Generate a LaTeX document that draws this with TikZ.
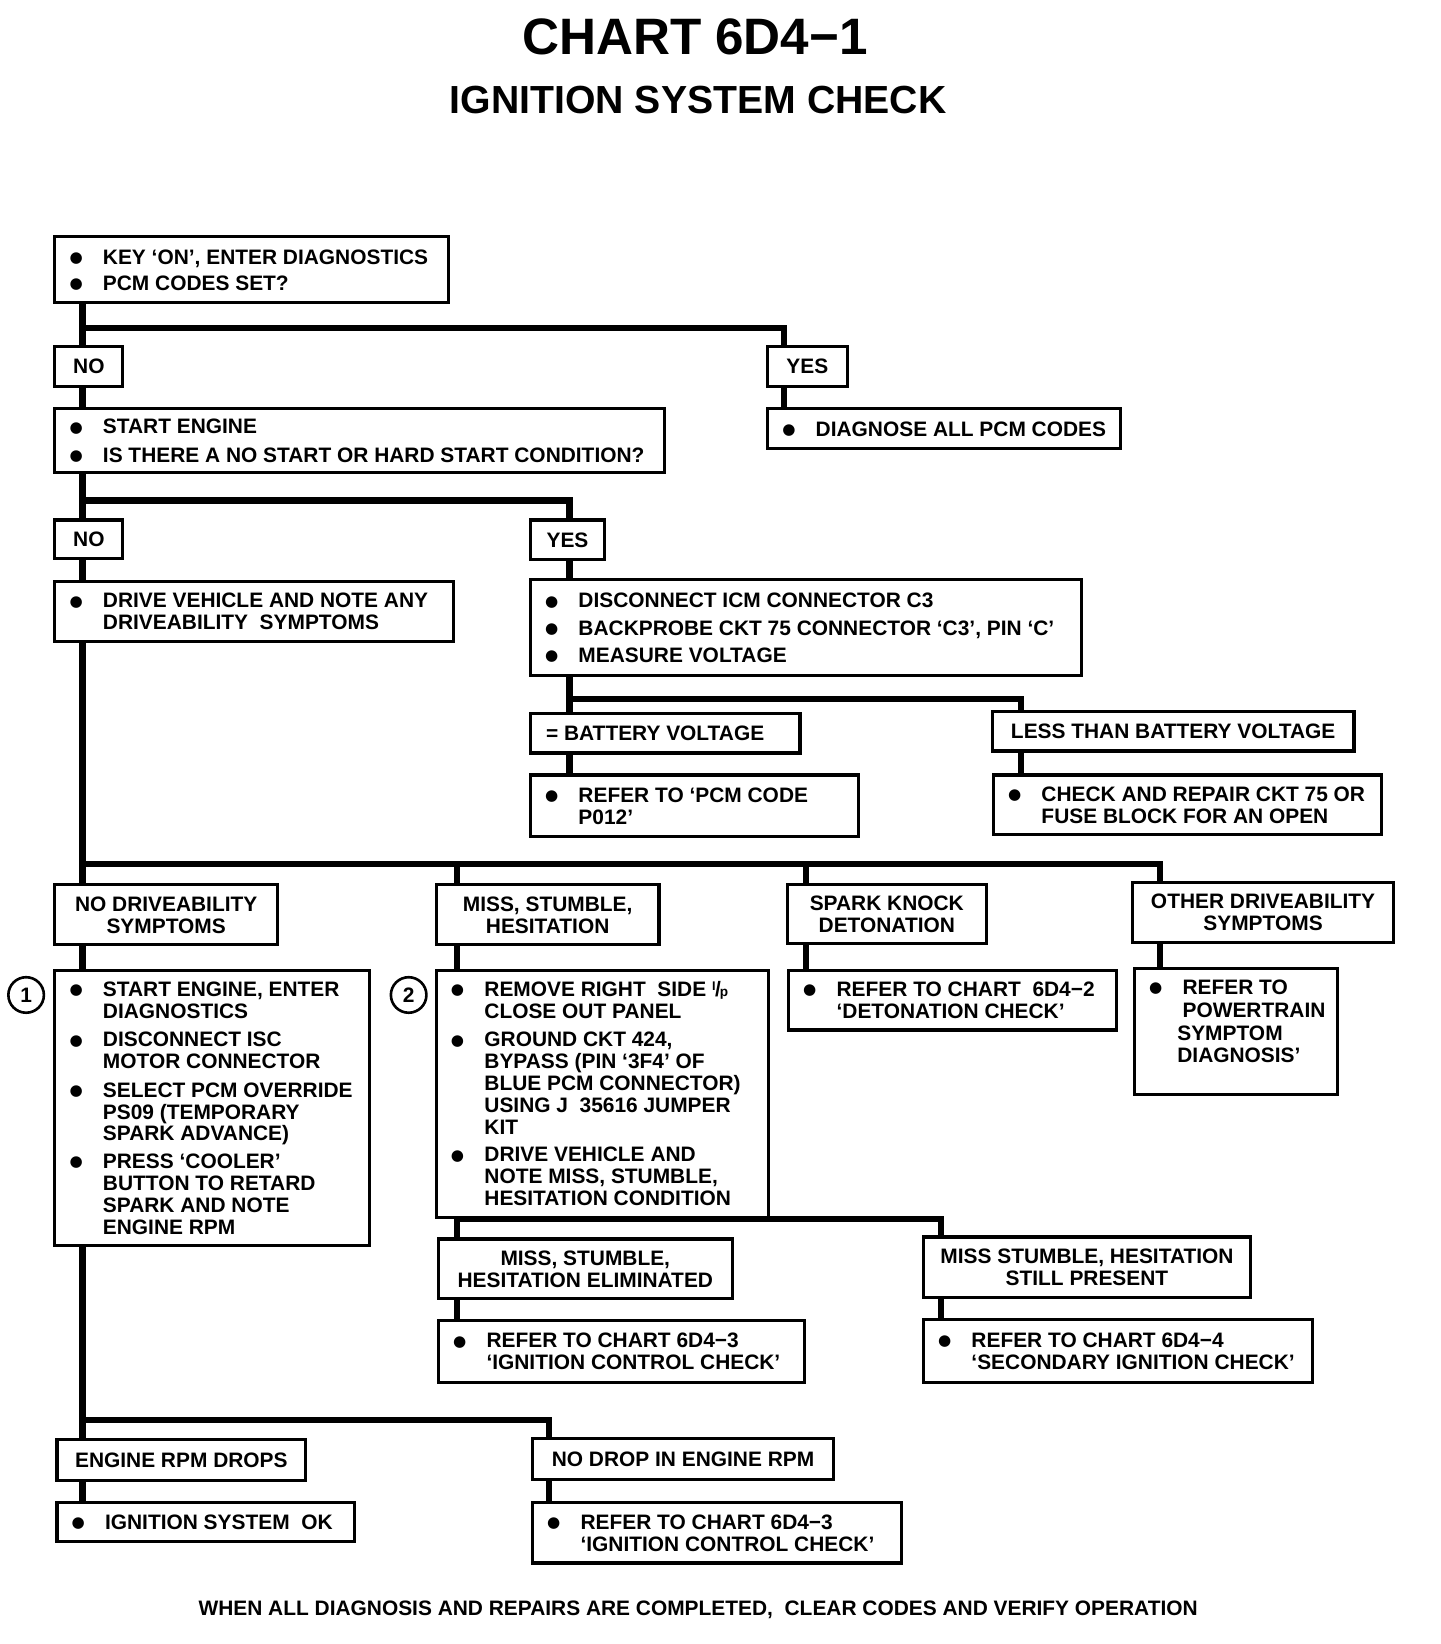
\documentclass[tikz,border=0pt]{standalone}
\usepackage{fontspec}
\setmainfont{Liberation Sans}
\newfontfamily\djv{DejaVu Sans}
\usetikzlibrary{calc}
\newcommand\bu{\hspace*{-1pt}\raisebox{1.8pt}{\djv\fontsize{14.5}{14.5}\selectfont ●}}
\newcommand\BL[2]{\makebox[#1pt][l]{\hspace*{15pt}\begin{tabular}{@{}p{31pt}@{}l@{}}#2\\[-6pt]\end{tabular}}}
\newcommand\CT[1]{\begin{tabular}{@{}c@{}}#1\\[-6pt]\end{tabular}}
\newcommand\IP{{\fontsize{12}{12}\selectfont\raisebox{6pt}{I}}\kern-0.5pt/\kern-1pt{\fontsize{13}{13}\selectfont p}}
\tikzset{
  txt/.style={font=\bfseries\fontsize{20}{21}\selectfont},
  box/.style={draw, line width=3pt, rectangle, inner sep=0pt, anchor=north west, txt},
  conn/.style={line width=6pt, line join=miter},
  num/.style={draw, circle, line width=2.5pt, minimum size=34pt, inner sep=0pt, txt}
}
\begin{document}
\begin{tikzpicture}[x=1pt,y=-1pt]
\useasboundingbox (0,0) rectangle (1378,1573);
% titles
\node[font=\bfseries\fontsize{49}{49}\selectfont] (title) at (665,35) {CHART 6D4−1};
\node[font=\bfseries\fontsize{37.5}{38}\selectfont] (subtitle) at (668,96) {IGNITION SYSTEM CHECK};
% boxes
\node[box,minimum width=377pt,minimum height=63pt] (A) at (51,225) {\BL{377}{\bu & KEY `ON', ENTER DIAGNOSTICS\\[4pt] \bu & PCM CODES SET?}};
\node[box,minimum width=65pt,minimum height=38pt] (no1) at (51,330) {\CT{NO}};
\node[box,minimum width=76pt,minimum height=38pt] (yes1) at (733,330) {\CT{YES}};
\node[box,minimum width=583pt,minimum height=62pt] (B) at (51,389) {\BL{583}{\bu & START ENGINE\\[6pt] \bu & IS THERE A NO START OR HARD START CONDITION?}};
\node[box,minimum width=338pt,minimum height=39pt] (diag) at (733,389) {\BL{338}{\bu & DIAGNOSE ALL PCM CODES}};
\node[box,minimum width=65pt,minimum height=37pt] (no2) at (51,496) {\CT{NO}};
\node[box,minimum width=71pt,minimum height=38pt] (yes2) at (506,496) {\CT{YES}};
\node[box,minimum width=381pt,minimum height=57pt] (C) at (51,555) {\BL{381}{\bu & DRIVE VEHICLE AND NOTE ANY\\ & DRIVEABILITY\ \ SYMPTOMS}};
\node[box,minimum width=527pt,minimum height=92pt] (D) at (506,553) {\BL{527}{\bu & DISCONNECT ICM CONNECTOR C3\\[5pt] \bu & BACKPROBE CKT 75 CONNECTOR `C3', PIN `C'\\[5pt] \bu & MEASURE VOLTAGE}};
\node[box,minimum width=258pt,minimum height=38pt] (eq) at (506,681) {\makebox[258pt][l]{\hspace*{15pt}\CT{= BATTERY VOLTAGE}}};
\node[box,minimum width=346pt,minimum height=38pt] (less) at (948,679) {\CT{LESS THAN BATTERY VOLTAGE}};
\node[box,minimum width=314pt,minimum height=59pt] (p012) at (506,740) {\BL{314}{\bu & REFER TO `PCM CODE\\ & P012'}};
\node[box,minimum width=371pt,minimum height=57pt] (ckt) at (949,740) {\BL{371}{\bu & CHECK AND REPAIR CKT 75 OR\\ & FUSE BLOCK FOR AN OPEN}};
\node[box,minimum width=213pt,minimum height=57pt] (nodrv) at (51,845) {\CT{NO DRIVEABILITY\\SYMPTOMS}};
\node[box,minimum width=213pt,minimum height=57pt] (miss) at (416,845) {\CT{MISS, STUMBLE,\\HESITATION}};
\node[box,minimum width=190pt,minimum height=56pt] (spark) at (752,845) {\CT{SPARK KNOCK\\DETONATION}};
\node[box,minimum width=250pt,minimum height=57pt] (other) at (1082,843) {\CT{OTHER DRIVEABILITY\\SYMPTOMS}};
\node[box,minimum width=301pt,minimum height=263pt] (b1) at (51,927) {\BL{301}{\bu & START ENGINE, ENTER\\ & DIAGNOSTICS\\[6pt] \bu & DISCONNECT ISC\\ & MOTOR CONNECTOR\\[6pt] \bu & SELECT PCM OVERRIDE\\ & PS09 (TEMPORARY\\ & SPARK ADVANCE)\\[5pt] \bu & PRESS `COOLER'\\ & BUTTON TO RETARD\\ & SPARK AND NOTE\\ & ENGINE RPM}};
\node[box,minimum width=318pt,minimum height=236pt] (b2) at (416,927) {\BL{318}{\bu & REMOVE RIGHT\ \ SIDE \IP\\ & CLOSE OUT PANEL\\[6pt] \bu & GROUND CKT 424,\\ & BYPASS (PIN `3F4' OF\\ & BLUE PCM CONNECTOR)\\ & USING J\ \ 35616 JUMPER\\ & KIT\\[5pt] \bu & DRIVE VEHICLE AND\\ & NOTE MISS, STUMBLE,\\ & HESITATION CONDITION}};
\node[box,minimum width=314pt,minimum height=57pt] (det) at (753,927) {\BL{314}{\bu & REFER TO CHART\ \ 6D4−2\\ & `DETONATION CHECK'}};
\node[box,minimum width=194pt,minimum height=121pt] (pwr) at (1084,925) {\BL{194}{\bu & REFER TO\\[1pt] & POWERTRAIN\\[1pt] & \hspace*{-5pt}SYMPTOM\\ & \hspace*{-5pt}DIAGNOSIS'\\[-1pt]}};
\node[box,minimum width=281pt,minimum height=57pt] (elim) at (418,1184) {\CT{MISS, STUMBLE,\\HESITATION ELIMINATED}};
\node[box,minimum width=313pt,minimum height=58pt] (still) at (882,1182) {\CT{MISS STUMBLE, HESITATION\\STILL PRESENT}};
\node[box,minimum width=350pt,minimum height=59pt] (ic1) at (418,1262) {\BL{350}{\bu & REFER TO CHART 6D4−3\\ & `IGNITION CONTROL CHECK'}};
\node[box,minimum width=372pt,minimum height=60pt] (sec) at (882,1261) {\BL{372}{\bu & REFER TO CHART 6D4−4\\ & `SECONDARY IGNITION CHECK'}};
\node[box,minimum width=238pt,minimum height=39pt] (drops) at (53,1376) {\CT{ENGINE RPM DROPS}};
\node[box,minimum width=288pt,minimum height=39pt] (nodrop) at (508,1375) {\CT{NO DROP IN ENGINE RPM}};
\node[box,minimum width=285pt,minimum height=37pt] (ok) at (53,1436) {\BL{285}{\bu & IGNITION SYSTEM\ \ OK}};
\node[box,minimum width=353pt,minimum height=58pt] (ic2) at (508,1436) {\BL{353}{\bu & REFER TO CHART 6D4−3\\ & `IGNITION CONTROL CHECK'}};
% numbered circles
\node[num] (n1) at (25,952) {1};
\node[num] (n2) at (391,952) {2};
% footer
\node[txt] (foot) at (668,1540) {WHEN ALL DIAGNOSIS AND REPAIRS ARE COMPLETED,\ \ CLEAR CODES AND VERIFY OPERATION};
% connectors
\draw[conn] ([xshift=28pt]A.south west) -- ([xshift=28pt]no1.north west);
\draw[conn] ([xshift=28pt,yshift=-23pt]A.south west) -| ([xshift=17pt]yes1.north west);
\draw[conn] ([xshift=28pt]no1.south west) -- ([xshift=28pt]B.north west);
\draw[conn] ([xshift=17pt]yes1.south west) -- ([xshift=17pt]diag.north west);
\draw[conn] ([xshift=28pt]B.south west) -- ([xshift=28pt]no2.north west);
\draw[conn] ([xshift=28pt,yshift=-25pt]B.south west) -| ([xshift=39pt]yes2.north west);
\draw[conn] ([xshift=28pt]no2.south west) -- ([xshift=28pt]C.north west);
\draw[conn] ([xshift=39pt]yes2.south west) -- ([xshift=39pt]D.north west);
\draw[conn] ([xshift=39pt]D.south west) -- ([xshift=39pt]eq.north west);
\draw[conn] ([xshift=39pt,yshift=-21pt]D.south west) -| ([xshift=29pt]less.north west);
\draw[conn] ([xshift=39pt]eq.south west) -- ([xshift=39pt]p012.north west);
\draw[conn] ([xshift=29pt]less.south west) -- ([xshift=28pt]ckt.north west);
\draw[conn] ([xshift=28pt]C.south west) -- ([xshift=28pt]nodrv.north west);
\draw[conn] ([xshift=28pt,yshift=-212pt]C.south west) -| ([xshift=28pt]other.north west);
\draw[conn] ([xshift=21pt,yshift=21pt]miss.north west) -- ([xshift=21pt]miss.north west);
\draw[conn] ([xshift=19pt,yshift=21pt]spark.north west) -- ([xshift=19pt]spark.north west);
\draw[conn] ([xshift=28pt]nodrv.south west) -- ([xshift=28pt]b1.north west);
\draw[conn] ([xshift=21pt]miss.south west) -- ([xshift=21pt]b2.north west);
\draw[conn] ([xshift=19pt]spark.south west) -- ([xshift=18pt]det.north west);
\draw[conn] ([xshift=28pt]other.south west) -- ([xshift=26pt]pwr.north west);
\draw[conn] ([xshift=21pt]b2.south west) -- ([xshift=19pt]elim.north west);
\draw[conn] ([xshift=21pt]b2.south west) -| ([xshift=18pt]still.north west);
\draw[conn] ([xshift=19pt]elim.south west) -- ([xshift=19pt]ic1.north west);
\draw[conn] ([xshift=18pt]still.south west) -- ([xshift=18pt]sec.north west);
\draw[conn] ([xshift=28pt]b1.south west) -- ([xshift=26pt]drops.north west);
\draw[conn] ([xshift=28pt,yshift=-166pt]b1.south west) -| ([xshift=17pt]nodrop.north west);
\draw[conn] ([xshift=26pt]drops.south west) -- ([xshift=26pt]ok.north west);
\draw[conn] ([xshift=17pt]nodrop.south west) -- ([xshift=17pt]ic2.north west);
\end{tikzpicture}
\end{document}
